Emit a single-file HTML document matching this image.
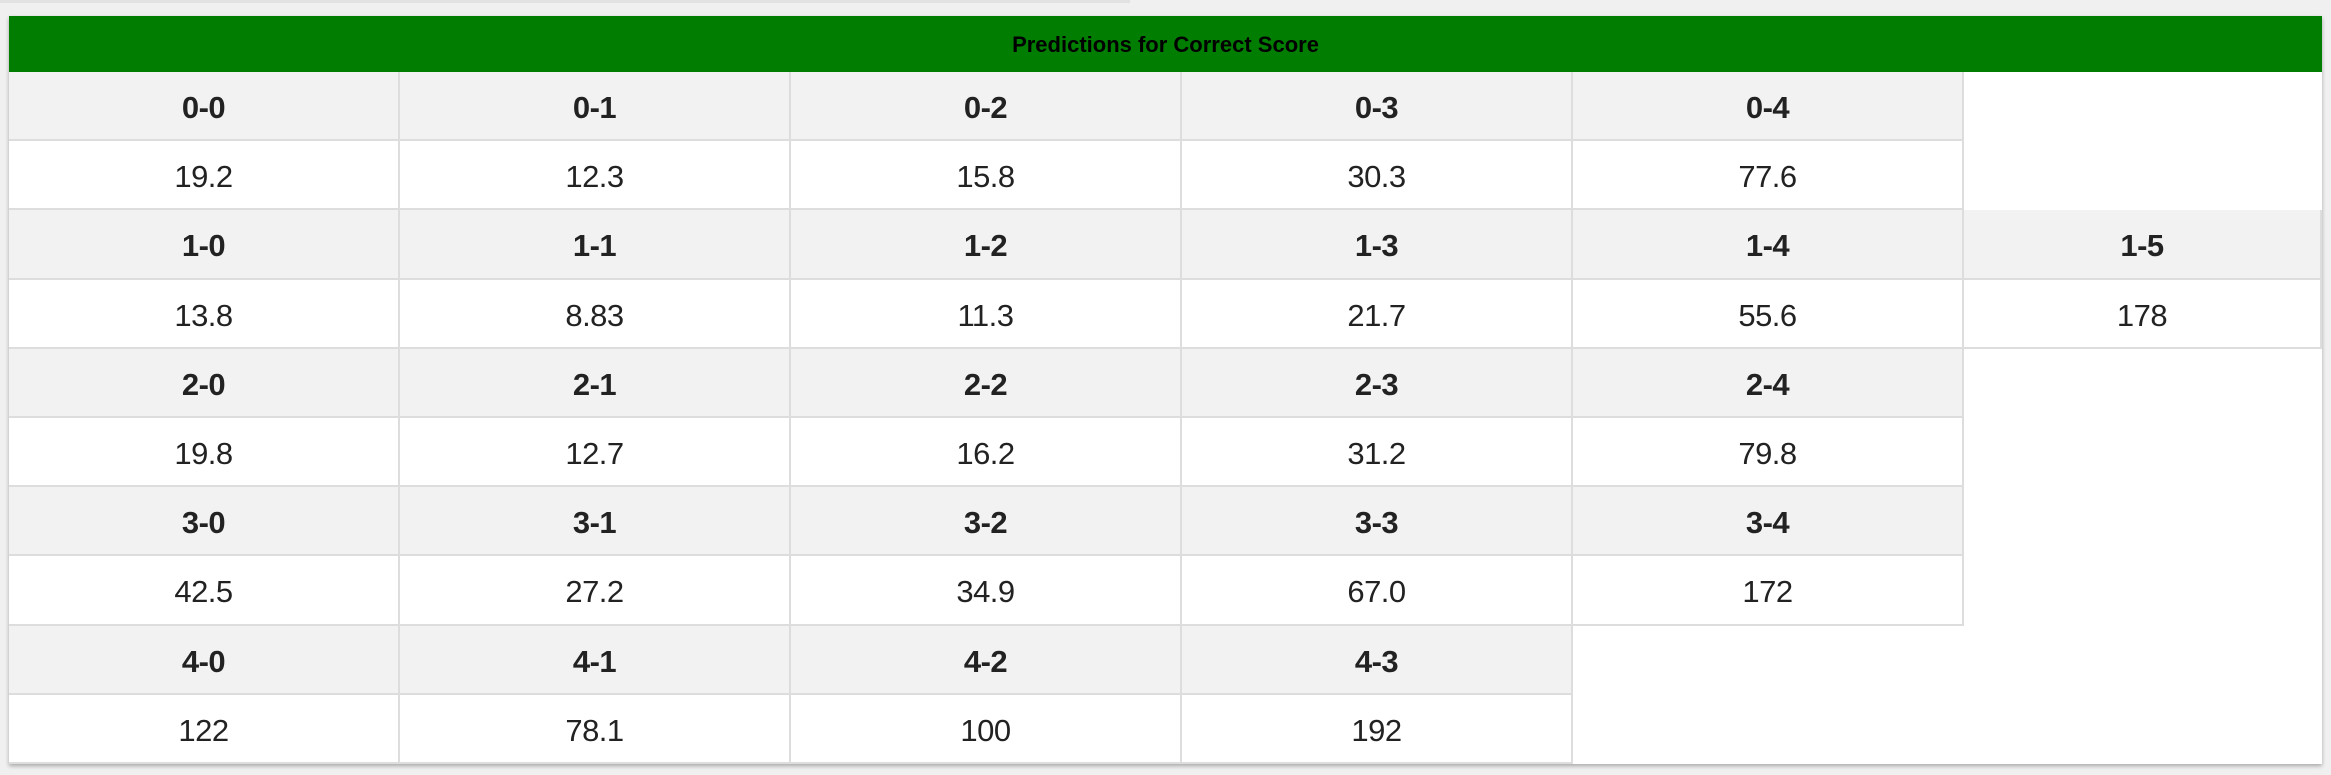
<!DOCTYPE html>
<html><head><meta charset="utf-8"><style>
html,body{margin:0;padding:0;width:2331px;height:775px;background:#f0f0f0;overflow:hidden;font-family:"Liberation Sans",sans-serif;}
.topline{position:absolute;left:0;top:0;width:1130px;height:3px;background:#e2e2e2;}
.card{position:absolute;left:9px;top:16px;width:2313px;height:748px;background:#fff;box-shadow:0 2px 4px rgba(0,0,0,0.3);}
.title{position:absolute;left:0;top:0;width:2313px;height:56px;background:#017e01;color:#000;font-weight:bold;font-size:22px;line-height:58px;text-align:center;}
.c{position:absolute;box-sizing:border-box;height:69.2px;line-height:72px;text-align:center;font-size:31px;color:#222;border-right:2px solid #ddd;border-bottom:2px solid #ddd;letter-spacing:-0.5px;}
.h{background:#f2f2f2;font-weight:bold;}
.v{background:#fff;}
</style></head><body>
<div class="topline"></div>
<div class="card">
<div class="title">Predictions for Correct Score</div>
<div id="g"></div>
</div>
<script>
var rows=[
[["0-0","19.2"],["0-1","12.3"],["0-2","15.8"],["0-3","30.3"],["0-4","77.6"]],
[["1-0","13.8"],["1-1","8.83"],["1-2","11.3"],["1-3","21.7"],["1-4","55.6"],["1-5","178"]],
[["2-0","19.8"],["2-1","12.7"],["2-2","16.2"],["2-3","31.2"],["2-4","79.8"]],
[["3-0","42.5"],["3-1","27.2"],["3-2","34.9"],["3-3","67.0"],["3-4","172"]],
[["4-0","122"],["4-1","78.1"],["4-2","100"],["4-3","192"]]];
var xs=[0,391,782,1173,1564,1955,2313];
var h="";
rows.forEach(function(r,i){
 r.forEach(function(c,j){
  var x=xs[j],w=xs[j+1]-xs[j],y=56+i*2*69.2;
  h+='<div class="c h" style="left:'+x+'px;top:'+y+'px;width:'+w+'px">'+c[0]+'</div>';
  h+='<div class="c v" style="left:'+x+'px;top:'+(y+69.2)+'px;width:'+w+'px">'+c[1]+'</div>';
 });
});
document.getElementById('g').innerHTML=h;
</script>
</body></html>
